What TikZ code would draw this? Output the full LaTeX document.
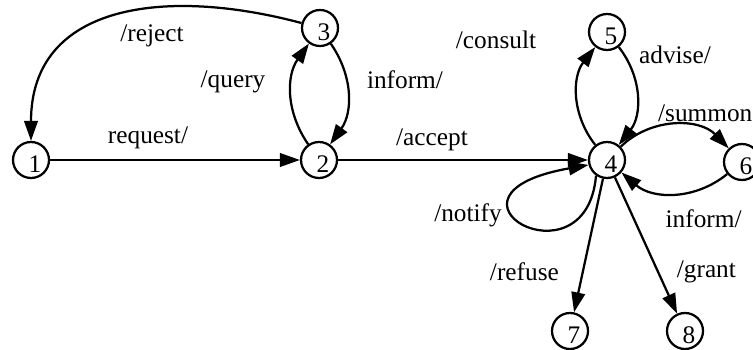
\documentclass[tikz,border=0pt]{standalone}
\usepackage{fontspec}
\setmainfont{Liberation Serif}
\usetikzlibrary{arrows.meta}
\begin{document}
\begin{tikzpicture}[font=\fontsize{18}{20}\selectfont, line width=1.6pt, >={Triangle[length=0.5cm, width=0.34cm]},
        state/.style={circle, draw, minimum size=0.9cm, inner sep=0pt, text height=0.65cm, text depth=0pt, execute at begin node=\hspace*{0.2cm}},
        every node/.style={inner sep=0pt}]
        \useasboundingbox (0, 0) rectangle (18.825, 8.75);

        \node[state] (n1) at (0.775, 4.75) {1};
        \node[state] (n2) at (7.975, 4.75) {2};
        \node[state] (n3) at (8.0, 8.05) {3};
        \node[state] (n4) at (15.175, 4.75) {4};
        \node[state] (n5) at (15.175, 7.95) {5};
        \node[state] (n6) at (18.55, 4.7) {6};
        \node[state] (n7) at (14.25, 0.475) {7};
        \node[state] (n8) at (17.125, 0.475) {8};

        \draw[->] (n1) -- (n2);
        \draw[->] (n3) to[out=165, in=90, looseness=1.2] (n1);
        \draw[->] (n2) to[bend left=35] (n3);
        \draw[->] (n3) to[bend left=35] (n2);
        \draw[->] (n2) -- (n4);
        \draw[->] (n4) to[bend left=38] (n5);
        \draw[->] (n5) to[bend left=38] (n4);
        \draw[->] (n4) to[bend left=45] (n6);
        \draw[->] (n6) to[bend left=40] (n4);
        \draw[->] (n4.235) .. controls +(265:2.875) and +(190:4.3) .. (n4.195);
        \draw[->] (n4) -- (n7);
        \draw[->] (n4) -- (n8);

        \node (reject) at (3.8, 7.85) {/reject};
        \node (request) at (3.7, 5.3) {request/};
        \node (query) at (5.825, 6.7) {/query};
        \node (inform32) at (10.125, 6.75) {inform/};
        \node (accept) at (10.8, 5.25) {/accept};
        \node (consult) at (12.4, 7.75) {/consult};
        \node (advise) at (16.875, 7.375) {advise/};
        \node[anchor=west] (summon) at (16.425, 5.925) {/summon};
        \node (inform64) at (17.59, 3.275) {inform/};
        \node (notify) at (11.7, 3.375) {/notify};
        \node (refuse) at (13.11, 1.95) {/refuse};
        \node (grant) at (17.66, 1.95) {/grant};
    \end{tikzpicture}
\end{document}
